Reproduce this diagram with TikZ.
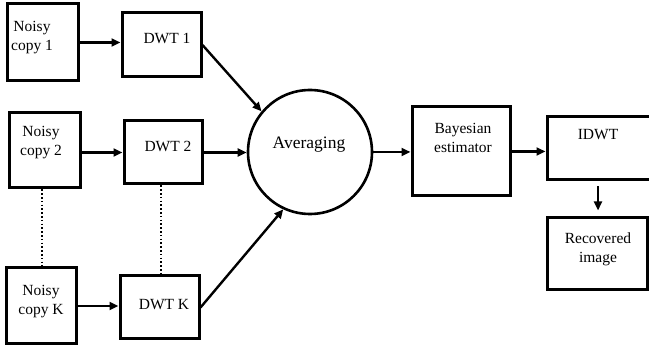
\documentclass[tikz,border=0pt]{standalone}
\usepackage{fontspec}
\setmainfont{Liberation Serif}
\usetikzlibrary{arrows.meta}
\begin{document}
\begin{tikzpicture}[x=1pt,y=-1pt,
  blk/.style={draw,line width=3pt,inner sep=0pt},
  lbl/.style={font=\fontsize{15.5}{19}\selectfont,align=center,inner sep=0pt},
  arr/.style={line width=2.4pt,-{Triangle[length=9pt,width=8pt]}},
  dots/.style={line width=2.4pt,dash pattern=on 1.6pt off 2.2pt}]
\useasboundingbox (0,0) rectangle (649,350);
\clip (0,0) rectangle (649,350);
% boxes
\node[blk,minimum width=71pt,minimum height=77pt] (n1) at (42.5,42.5) {};
\node[blk,minimum width=79pt,minimum height=64pt] (d1) at (161.5,45) {};
\node[blk,minimum width=71pt,minimum height=75pt] (n2) at (44.5,150.5) {};
\node[blk,minimum width=78pt,minimum height=63pt] (d2) at (163,152.5) {};
\node[blk,minimum width=70pt,minimum height=76pt] (nk) at (41,306) {};
\node[blk,minimum width=79pt,minimum height=63pt] (dk) at (159.5,307.5) {};
\node[draw,circle,line width=2.6pt,minimum size=124pt,inner sep=0pt] (avg) at (310,152) {};
\node[blk,minimum width=98pt,minimum height=89pt] (bay) at (461,151.5) {};
\node[blk,minimum width=104pt,minimum height=63pt] (idwt) at (599,148.5) {};
\node[blk,minimum width=100pt,minimum height=72pt] (rec) at (597,254) {};
% labels
\node[lbl] (t1) at (32,38) {Noisy\\copy 1};
\node[lbl] (td1) at (167,39) {DWT 1};
\node[lbl] (t2) at (41,143) {Noisy\\copy 2};
\node[lbl] (td2) at (168,146) {DWT 2};
\node[lbl] (tk) at (41,302) {Noisy\\copy K};
\node[lbl] (tdk) at (164,305) {DWT K};
\node[lbl,font=\fontsize{17.5}{20}\selectfont] (tavg) at (309,145) {Averaging};
\node[lbl] (tbay) at (463,138) {Bayesian\\estimator};
\node[lbl] (tidwt) at (598,135) {IDWT};
\node[lbl] (trec) at (598,249) {Recovered\\image};
% connectors
\draw[arr] (n1.east) -- (d1.west |- n1.east);
\draw[arr] (n2.east |- d2.west) -- (d2.west);
\draw[arr] (nk.east) -- (dk.west |- nk.east);
\draw[arr] (d1.east) -- (avg.140);
\draw[arr] (d2.east) -- (avg.west |- d2.east);
\draw[arr] (dk.east) -- (avg.245);
\draw[arr] (avg.east) -- (bay.west |- avg.east);
\draw[arr] (bay.east) -- (idwt.west |- bay.east);
\draw[arr,shorten <=5pt,shorten >=6pt] (idwt.south -| trec) -- (rec.north -| trec);
\draw[dots] (n2.south -| 42,0) -- (nk.north -| 42,0);
\draw[dots] (d2.south -| 161,0) -- (dk.north -| 161,0);
\end{tikzpicture}
\end{document}
